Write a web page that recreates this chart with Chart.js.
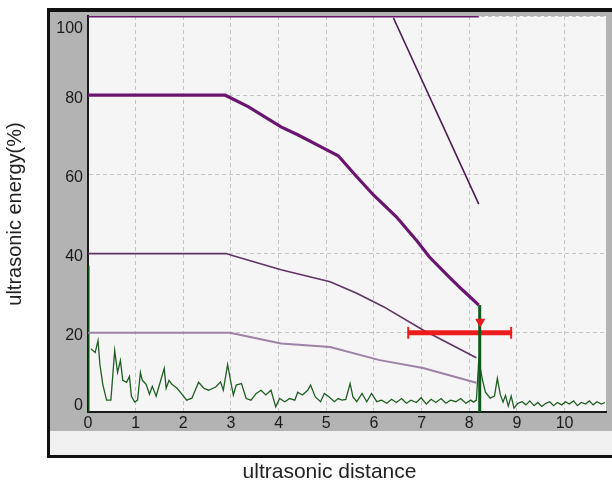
<!DOCTYPE html>
<html>
<head>
<meta charset="utf-8">
<script src="https://cdn.jsdelivr.net/npm/chart.js@4.4.1/dist/chart.umd.min.js"></script>
<style>
  html, body { margin: 0; padding: 0; background: #fff; }
  #wrap { width: 612px; height: 493px; }
</style>
</head>
<body>
<div id="wrap"><canvas id="energyChart" width="612" height="493"></canvas></div>
<script>
// Axis range and ticks
const distMax = 10.87;
const energyTicks = [0, 20, 40, 60, 80, 100];
const distTicks = [0, 1, 2, 3, 4, 5, 6, 7, 8, 9, 10];

// Reference curves (purple)
const limitDist = [0, 8.2];
const limitEnergy = [100, 100];
const steepDist = [6.41, 8.2];
const steepEnergy = [99.5, 52.5];
const curve80Dist = [0, 2.88, 3.36, 4.05, 4.4, 4.88, 5.25, 5.64, 5.99, 6.47, 6.89, 7.16, 7.57, 7.86, 8.2];
const curve80Energy = [80, 80, 77.1, 72, 70, 67, 64.7, 59.4, 54.8, 49.3, 43.4, 39.2, 34.2, 30.8, 27];
const curve40Dist = [0, 2.9, 3.01, 4.05, 5.08, 5.64, 6.2, 7.03, 8.15];
const curve40Energy = [40, 40, 39.6, 35.9, 32.9, 30, 26.6, 20.7, 13.7];
const curve20Dist = [0, 2.98, 4.05, 5.08, 6.12, 7.03, 8.15];
const curve20Energy = [20, 20, 17.3, 16.4, 13.1, 11.1, 7.4];

// Gate (red) and markers
const gateDist = [6.72, 8.88];
const gateLevel = 20;
const markerDist = 8.23;
const markerEnergy = 22.8;
const echoDist = 8.22;
const echoTop = 27;
const startTop = 37;

// Measured signal (green)
const signalDist = [0.06, 0.15, 0.21, 0.25, 0.31, 0.39, 0.48, 0.56, 0.62, 0.68, 0.73, 0.81, 0.87, 0.91, 0.98,
  1.04, 1.10, 1.14, 1.22, 1.29, 1.35, 1.43, 1.49, 1.60, 1.64, 1.70, 1.76, 1.87, 1.97, 2.07, 2.18, 2.32, 2.43,
  2.53, 2.68, 2.78, 2.84, 2.93, 2.99, 3.05, 3.11, 3.22, 3.32, 3.42, 3.53, 3.63, 3.73, 3.84, 3.94, 4.02, 4.13,
  4.23, 4.34, 4.40, 4.50, 4.61, 4.67, 4.77, 4.88, 4.96, 5.06, 5.17, 5.25, 5.33, 5.41, 5.50, 5.56, 5.64, 5.75,
  5.85, 5.95, 6.06, 6.16, 6.27, 6.37, 6.47, 6.58, 6.68, 6.78, 6.89, 6.99, 7.10, 7.20, 7.30, 7.41, 7.51, 7.61,
  7.72, 7.82, 7.93, 8.03, 8.09, 8.15, 8.20, 8.28, 8.34, 8.44, 8.53, 8.59, 8.65, 8.71, 8.76, 8.82, 8.88, 8.94,
  9.02, 9.11, 9.19, 9.27, 9.36, 9.44, 9.52, 9.61, 9.69, 9.77, 9.85, 9.94, 10.02, 10.10, 10.19, 10.27, 10.35,
  10.44, 10.52, 10.60, 10.68, 10.77, 10.85];
const signalEnergy = [16, 15, 18, 12, 7, 3, 3, 15.5, 10, 13, 8, 7.5, 9, 4, 2.5,
  3, 10, 8, 7, 4.5, 6.5, 4, 6.5, 11, 6, 8, 7, 6, 4.5, 3, 3.5, 7.5, 6,
  5.5, 6.3, 7.6, 5.5, 12, 8, 4.3, 6.8, 7.2, 3.4, 3, 4.7, 5.5, 4.3, 5.5, 1.3, 3.4, 2.6,
  3.4, 3, 5, 4.3, 5.5, 6.8, 3.8, 2.6, 4.7, 3.8, 2.6, 3.4, 3, 3.2, 7.2, 3.8, 2.6, 4.7,
  2.6, 4.7, 2.6, 3, 2.2, 3.2, 2.4, 3.4, 2.2, 3, 2.4, 3.6, 2, 3.2, 2.4, 3.4, 2.2, 3,
  2.6, 3.4, 2.2, 3, 2.5, 3, 13, 8, 5, 3.5, 4, 8.5, 4.5, 2.5, 4.2, 1.5, 4, 1,
  2.2, 2.6, 1.8, 2.8, 1.6, 2.4, 1.4, 2.2, 2.6, 1.6, 2.4, 1.8, 2.6, 2, 2.8, 1.6, 2.4,
  2, 2.8, 1.8, 2.6, 2, 2.4];

const fontFamily = '"Liberation Sans", Arial, sans-serif';
const tickFamily = '"Liberation Sans Narrow", "Liberation Sans", Arial, sans-serif';

function toPoints(xs, ys) {
    return xs.map((x, i) => ({ x: x, y: ys[i] }));
}

function lineSet(data, color, width) {
    return {
        data: data,
        borderColor: color,
        borderWidth: width,
        pointRadius: 0,
        fill: false,
        tension: 0
    };
}

// Frame, gray band and plot background behind the chart
const framePlugin = {
    id: 'frame',
    beforeDraw(chart) {
        const { ctx, chartArea: a } = chart;
        const w = chart.width;
        ctx.save();
        ctx.fillStyle = '#ffffff';
        ctx.fillRect(0, 0, w, chart.height);
        ctx.fillStyle = '#111111';
        ctx.fillRect(a.left - 41, a.top - 8, w, a.bottom - a.top + 54);
        ctx.fillStyle = '#f0f0f0';
        ctx.fillRect(a.left - 38, a.top - 4, w, a.bottom - a.top + 47);
        ctx.fillStyle = '#b3b3b3';
        ctx.fillRect(a.left - 38, a.top - 4, w, a.bottom - a.top + 23);
        ctx.fillStyle = '#f5f5f5';
        ctx.fillRect(a.left, a.top, a.right - a.left, a.bottom - a.top);
        ctx.restore();
    },
    afterDraw(chart) {
        const { ctx, chartArea: a } = chart;
        ctx.save();
        ctx.fillStyle = '#222222';
        ctx.font = '21px ' + fontFamily;
        ctx.textAlign = 'center';
        ctx.textBaseline = 'middle';
        ctx.fillText('ultrasonic distance', (a.left - 41 + chart.width) / 2, 472);
        ctx.restore();
    }
};

// Keep the end labels of the energy axis inside the plot
function energyLabel(value) {
    if (value === 100) return ['', '100'];
    if (value === 0) return ['0', ''];
    return String(value);
}

function initEnergyChart() {
    const ctx = document.getElementById('energyChart');
    if (!ctx) return;

    const datasets = [
        // red gate marker on top
        Object.assign(lineSet([{ x: markerDist, y: markerEnergy }], '#e81818', 1), {
            pointRadius: 5, pointStyle: 'triangle', pointRotation: 180,
            pointBackgroundColor: '#e81818', pointBorderColor: '#e81818', showLine: false
        }),
        lineSet(toPoints([echoDist, echoDist], [0, echoTop]), '#0e5a1c', 3),
        lineSet(toPoints(gateDist, [gateLevel, gateLevel]), '#ec1c1c', 5),
        lineSet(toPoints([gateDist[0], gateDist[0]], [gateLevel - 1.5, gateLevel + 1.5]), '#ec1c1c', 2),
        lineSet(toPoints([gateDist[1], gateDist[1]], [gateLevel - 1.5, gateLevel + 1.5]), '#ec1c1c', 2),
        lineSet(toPoints(limitDist, limitEnergy), '#6a1670', 3),
        lineSet(toPoints(steepDist, steepEnergy), '#4e1a52', 1.6),
        lineSet(toPoints(curve80Dist, curve80Energy), '#6a1670', 3.2),
        lineSet(toPoints(curve40Dist, curve40Energy), '#5e3563', 1.6),
        lineSet(toPoints(curve20Dist, curve20Energy), '#9c82a4', 2),
        lineSet(toPoints([0, 0], [0, startTop]), '#0e4a14', 3),
        lineSet(toPoints(signalDist, signalEnergy), '#1f5e22', 1.3)
    ];

    new Chart(ctx, {
        type: 'line',
        data: { datasets: datasets },
        plugins: [framePlugin],
        options: {
            responsive: false,
            animation: false,
            layout: { padding: { left: 0, top: 16, right: 0, bottom: 0 } },
            plugins: {
                legend: { display: false },
                tooltip: { enabled: false }
            },
            scales: {
                x: {
                    type: 'linear',
                    min: 0,
                    max: distMax,
                    afterFit(scale) {
                        scale.height = 81;
                        scale.paddingLeft = 0;
                        scale.paddingRight = 0;
                    },
                    afterBuildTicks(scale) { scale.ticks = distTicks.map(v => ({ value: v })); },
                    ticks: {
                        padding: 2,
                        color: '#1a1a1a',
                        maxRotation: 0,
                        font: { family: tickFamily, size: 16 }
                    },
                    grid: { color: '#c6c6c6', drawTicks: false, lineWidth: 1 },
                    border: { display: true, color: '#1a1a1a', width: 2, dash: [4, 3] }
                },
                y: {
                    min: 0,
                    max: 100,
                    afterFit(scale) {
                        scale.width = 88;
                        scale.paddingTop = 0;
                        scale.paddingBottom = 0;
                    },
                    afterBuildTicks(scale) { scale.ticks = energyTicks.map(v => ({ value: v })); },
                    ticks: {
                        padding: 5,
                        labelOffset: 3,
                        color: '#1a1a1a',
                        font: { family: tickFamily, size: 16 },
                        callback: energyLabel
                    },
                    grid: { color: '#c6c6c6', drawTicks: false, lineWidth: 1 },
                    border: { display: true, color: '#1a1a1a', width: 2, dash: [4, 3] },
                    title: {
                        display: true,
                        text: 'ultrasonic energy(%)',
                        color: '#222',
                        padding: { top: 3, bottom: 0 },
                        font: { family: fontFamily, size: 20 }
                    }
                }
            }
        }
    });
}

document.addEventListener('DOMContentLoaded', initEnergyChart);
</script>
</body>
</html>
